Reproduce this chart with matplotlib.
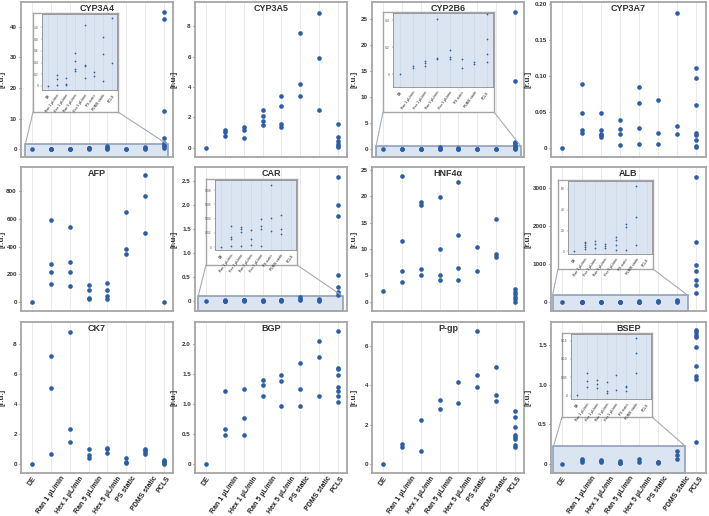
import matplotlib
matplotlib.use("Agg")
import matplotlib.pyplot as plt
import numpy as np
from matplotlib.patches import Rectangle, ConnectionPatch

plt.rcParams['font.family'] = ['Liberation Sans', 'DejaVu Sans']

groups = ["DE", "Ran 1 µL/min", "Hex 1 µL/min", "Ran 5 µL/min", "Hex 5 µL/min",
          "PS static", "PDMS static", "PCLS"]

# values per group
cyp3a4 = [[0.0], [0.18, 0.11, 0.01], [0.13, 0.03, 0.01], [0.56, 0.43, 0.29, 0.26],
          [1.04, 0.36, 0.34, 0.13], [0.24, 0.17], [0.83, 0.54, 0.09],
          [44.6, 42.3, 12.4, 3.7, 2.1, 1.5, 1.16, 0.39]]
cyp3a5 = [[0.0], [1.17, 1.02, 0.8], [1.39, 1.2, 0.67], [2.5, 2.1, 1.74, 1.52],
          [3.43, 2.76, 1.59, 1.37], [7.59, 4.2, 3.41], [8.9, 5.93, 2.48],
          [1.57, 0.74, 0.48, 0.26, 0.15, 0.09]]
cyp2b6 = [[0.0], [0.064, 0.05], [0.10, 0.086, 0.06], [0.41, 0.12, 0.115],
          [0.18, 0.13, 0.11], [0.11, 0.044], [0.09, 0.08],
          [26.4, 13.1, 1.45, 1.25, 0.75, 0.45, 0.26, 0.15, 0.09]]
cyp3a7 = [[0.0], [0.089, 0.048, 0.025, 0.020], [0.048, 0.025, 0.019, 0.017, 0.015],
          [0.038, 0.026, 0.019, 0.004], [0.084, 0.062, 0.028, 0.005],
          [0.067, 0.020, 0.005], [0.187, 0.030, 0.019],
          [0.111, 0.097, 0.060, 0.020, 0.018, 0.010, 0.002, 0.001]]
afp = [[0], [595, 275, 214, 128], [545, 292, 214, 113], [123, 89, 29, 19],
       [140, 87, 43, 22], [648, 386, 349], [916, 764, 501], [0]]
car = [[0.0], [0.030, 0.0145, 0.012, 0.001], [0.0286, 0.026, 0.021, 0.002],
       [0.0245, 0.012, 0.003], [0.039, 0.029, 0.026, 0.001], [0.087, 0.041, 0.022],
       [0.045, 0.025, 0.018], [2.59, 2.01, 1.78, 0.56, 0.29, 0.19, 0.125]]
hnf4a = [[2.1], [23.9, 11.6, 5.8, 3.8], [19.0, 18.3, 6.2, 5.0], [19.9, 10.1, 5.0, 4.1],
         [22.7, 12.7, 6.4, 4.2], [10.5, 5.9], [15.7, 9.1, 8.6],
         [2.4, 1.9, 1.4, 0.9, 0.5, 0.0]]
alb = [[0], [9.5, 7.6, 5.7, 4.1, 2.5], [10.2, 7, 3.2], [6.7, 5.1, 3.2],
       [14, 10.8, 5.7, 1], [26, 23.8, 1.6], [62.9, 33, 6.3],
       [3300, 1575, 973, 823, 575, 442, 230]]
ck7 = [[0.0], [7.18, 5.09, 0.64], [8.82, 2.31, 1.47], [0.98, 0.6, 0.38],
       [1.04, 0.98, 0.71], [0.38, 0.11, 0.04], [1.0, 0.89, 0.76, 0.64],
       [0.27, 0.2, 0.11, 0.04, 0.0]]
bgp = [[0.0], [1.22, 0.58, 0.49], [1.26, 0.77, 0.49], [1.41, 1.32, 1.14],
       [1.48, 1.39, 0.96], [1.69, 1.25, 0.96], [2.06, 1.79, 1.14],
       [2.22, 1.6, 1.58, 1.48, 1.29, 1.22, 1.13, 1.04]]
pgp = [[0.0], [1.0, 0.88], [2.22, 0.66], [3.27, 2.8], [4.15, 3.1], [6.76, 4.5, 3.9],
       [4.92, 3.53, 3.19], [2.7, 2.39, 1.9, 1.47, 1.36, 1.25, 0.97, 0.85]]
bsep = [[0.002], [0.061, 0.041, 0.023], [0.043, 0.032, 0.021], [0.036, 0.013, 0.008],
        [0.055, 0.015], [0.027, 0.023, 0.014], [0.157, 0.115, 0.063],
        [1.69, 1.66, 1.63, 1.60, 1.47, 1.24, 1.11, 1.07, 0.27]]

titles = ["CYP3A4", "CYP3A5", "CYP2B6", "CYP3A7", "AFP", "CAR", "HNF4α", "ALB",
          "CK7", "BGP", "P-gp", "BSEP"]
series = [cyp3a4, cyp3a5, cyp2b6, cyp3a7, afp, car, hnf4a, alb, ck7, bgp, pgp, bsep]
ylims = [(-2.5, 48), (-0.6, 9.6), (-1.5, 28.3), (-0.013, 0.203), (-65, 976), (-0.2, 2.8),
         (-1.75, 25.6), (-239, 3558), (-0.62, 9.47), (-0.15, 2.37), (-0.46, 7.22),
         (-0.118, 1.79)]
yticks = [[0, 10, 20, 30, 40], [0, 2, 4, 6, 8], [0, 5, 10, 15, 20, 25],
          [0, 0.05, 0.10, 0.15, 0.20], [0, 200, 400, 600, 800], [0, 0.5, 1.0, 1.5, 2.0, 2.5],
          [0, 5, 10, 15, 20, 25], [0, 1000, 2000, 3000], [0, 2, 4, 6, 8],
          [0, 0.5, 1.0, 1.5, 2.0], [0, 2, 4, 6], [0, 0.5, 1.0, 1.5]]
ydec = [0, 0, 0, 2, 0, 1, 0, 0, 0, 1, 0, 1]

# zoom insets: panel -> (inset ylim, inset ticks, decimals, rect x range, rect top)
insets = {
    0: ((-0.07, 1.23), [0, 0.2, 0.4, 0.6, 0.8, 1.0], 1, (-0.37, 7.21), 1.6),
    2: ((-0.094, 0.454), [0, 0.2, 0.4], 1, (-0.38, 7.32), 0.64),
    5: ((-0.004, 0.094), [0, 0.02, 0.04, 0.06, 0.08], 2, (-0.43, 7.27), 0.11),
    7: ((-2.5, 67.6), [0, 20, 40, 60], 0, (-0.52, 6.54), 177),
    11: ((-0.009, 0.168), [0, 0.05, 0.10, 0.15], 2, (-0.47, 6.42), 0.22),
}
# inset boxes in pixels: outer (l, t, r, b), blue axes (l, t, r, b)
inset_px = {
    0: ((33, 13, 118, 112), (42, 14, 117, 90)),
    2: ((383, 12, 494, 112), (393, 13, 493, 87)),
    5: ((206, 179, 297, 265), (215, 180, 296, 250)),
    7: ((558, 180, 653, 269), (568, 181, 652, 254)),
    11: ((562, 333, 652, 417), (571, 334, 651, 399)),
}

W, H = 709, 516
cols = [(21, 173), (195, 347), (372, 524), (551, 706)]
rows = [(2, 157), (167, 311), (322, 473)]
ylab_off = [15, 17, 15, 19]
dot = '#2c5ea6'
frame = '#a6a6a6'
blue_bg = '#dbe5f1'


def fpos(l, t, r, b):
    return [l / W, 1 - b / H, (r - l) / W, (b - t) / H]


def fmt(t, dec):
    return "0" if t == 0 else f"{t:.{dec}f}"


fig = plt.figure(figsize=(W / 100, H / 100), dpi=100)

for k in range(12):
    r, c = divmod(k, 4)
    ax = fig.add_axes(fpos(cols[c][0], rows[r][0], cols[c][1], rows[r][1]))
    vals = series[k]
    for i, v in enumerate(vals):
        ax.scatter(np.full(len(v), i), v, s=11, color=dot, zorder=3, linewidths=0)
    ax.set_xlim(-0.6, 7.5)
    ax.set_ylim(*ylims[k])
    ax.set_xticks(range(len(groups)))
    ax.grid(axis='x', color='#e6e6e6', lw=0.6)
    ax.set_axisbelow(True)
    ax.set_yticks(yticks[k])
    ax.set_yticklabels([fmt(t, ydec[k]) for t in yticks[k]])
    ax.tick_params(axis='y', labelsize=4.5, length=1.5, width=0.5, colors='#333333', pad=1.5)
    for lab in ax.get_yticklabels():
        lab.set_fontweight('bold')
    if r == 2:
        ax.set_xticklabels(groups, rotation=55, ha='center',
                           fontsize=5.0, fontweight='bold', color='#222222')
        ax.tick_params(axis='x', length=0, pad=1.5)
    else:
        ax.tick_params(axis='x', length=0, labelbottom=False)
    for s in ax.spines.values():
        s.set_color(frame)
        s.set_linewidth(1.3)
    # title as a figure text so that it stays above the inset boxes
    fig.text((cols[c][0] + cols[c][1]) / 2 / W, 1 - (rows[r][0] + 2) / H, titles[k],
             ha='center', va='top', fontsize=6.5, fontweight='bold', color='#333333')
    ax.set_ylabel("[r.u.]", fontsize=5.8, fontweight='bold', color='#333333')
    ax.yaxis.set_label_coords(-ylab_off[c] / (cols[c][1] - cols[c][0]), 0.5)

    if k in insets:
        iylim, iticks, idec, (rx0, rx1), rtop = insets[k]
        ybot = ylims[k][0]
        ax.add_patch(Rectangle((rx0, ybot), rx1 - rx0, rtop - ybot, facecolor=blue_bg,
                               edgecolor='#8fa0bc', lw=1.2, zorder=1, clip_on=False))
        outer, inner = inset_px[k]
        ol, ot, orr, ob = outer
        for xa, xb in ((rx0, ol), (rx1, orr)):
            con = ConnectionPatch(xyA=(xa, rtop), coordsA=ax.transData,
                                  xyB=(xb / W, 1 - ob / H), coordsB=fig.transFigure,
                                  color='#a3abba', lw=0.8)
            fig.add_artist(con)
        box = fig.add_axes(fpos(*outer))
        box.set_xticks([])
        box.set_yticks([])
        box.set_facecolor('white')
        for s in box.spines.values():
            s.set_color('#a6a6a6')
            s.set_linewidth(1.0)
        iax = fig.add_axes(fpos(*inner))
        iax.set_facecolor(blue_bg)
        for i, v in enumerate(vals):
            iax.scatter(np.full(len(v), i), v, s=1.6, color=dot, zorder=3, linewidths=0)
        iax.set_xlim(-0.6, 7.5)
        iax.set_ylim(*iylim)
        iax.set_xticks(range(len(groups)))
        iax.set_xticklabels(groups, rotation=55, ha='right', rotation_mode='anchor',
                            fontsize=2.4, fontweight='bold', color='#444444')
        iax.set_yticks(iticks)
        iax.set_yticklabels([fmt(t, idec) for t in iticks])
        iax.tick_params(labelsize=2.4, length=1, width=0.3, pad=1.5, colors='#555555')
        iax.grid(axis='x', color='#c8d3e3', lw=0.4)
        iax.set_axisbelow(True)
        for s in iax.spines.values():
            s.set_color('#8c8c8c')
            s.set_linewidth(0.6)

fig.savefig("out.png", dpi=100)
